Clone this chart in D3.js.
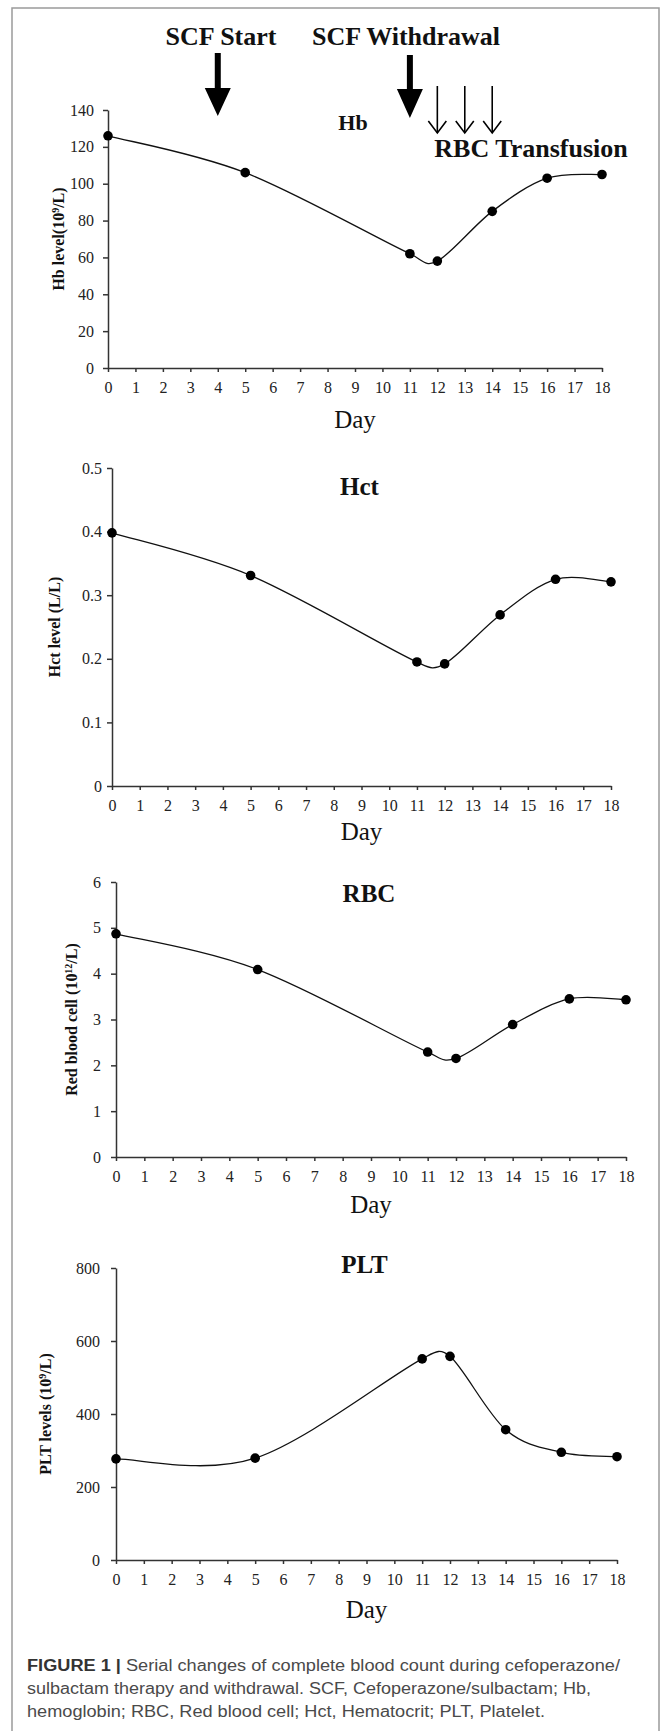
<!DOCTYPE html>
<html>
<head>
<meta charset="utf-8">
<script src="https://cdn.jsdelivr.net/npm/d3@7"></script>
<style>
  body { margin: 0; background: #fff; }
  svg { display: block; }
  .tick text { font-family: "Liberation Serif", serif; font-size: 16px; fill: #222; }
  .axis path, .axis line { stroke: #333; stroke-width: 1.5; }
</style>
</head>
<body>
<svg id="fig" width="663" height="1731"></svg>
<script>
// values
const days = [0, 5, 11, 12, 14, 16, 18];
const hbValues = [126, 106, 62, 58, 85, 103, 105];
const hctValues = [0.398, 0.331, 0.195, 0.192, 0.269, 0.325, 0.321];
const rbcValues = [4.87, 4.09, 2.29, 2.15, 2.89, 3.45, 3.43];
const pltValues = [277, 279, 551, 558, 357, 295, 283];

const dayTicks = [0, 1, 2, 3, 4, 5, 6, 7, 8, 9, 10, 11, 12, 13, 14, 15, 16, 17, 18];
const hbTicks = [0, 20, 40, 60, 80, 100, 120, 140];
const hctTicks = [0, 0.1, 0.2, 0.3, 0.4, 0.5];
const rbcTicks = [0, 1, 2, 3, 4, 5, 6];
const pltTicks = [0, 200, 400, 600, 800];

const scfStartDay = 4;
const scfStopDay = 11;
const transfusionDays = [12, 13, 14];

const caption = [
  "Serial changes of complete blood count during cefoperazone/",
  "sulbactam therapy and withdrawal. SCF, Cefoperazone/sulbactam; Hb,",
  "hemoglobin; RBC, Red blood cell; Hct, Hematocrit; PLT, Platelet."
];

// layout of the four panels
const panels = [
  { title: "Hb", values: hbValues, ticks: hbTicks, yLabel: ["Hb level(10", "9", "/L)"],
    x0: 108, x1: 602, yTop: 110, yBot: 368, pad: 9, titleY: 130, titleSize: 22,
    labelX: 58, dayY: 428 },
  { title: "Hct", values: hctValues, ticks: hctTicks, yLabel: ["Hct level (L/L)"],
    x0: 112, x1: 611, yTop: 468, yBot: 786, pad: 5, titleY: 495, titleSize: 25,
    labelX: 54, dayY: 840 },
  { title: "RBC", values: rbcValues, ticks: rbcTicks, yLabel: ["Red blood cell (10", "12", "/L)"],
    x0: 116, x1: 626, yTop: 882, yBot: 1157, pad: 10, titleY: 902, titleSize: 25,
    labelX: 71, dayY: 1213 },
  { title: "PLT", values: pltValues, ticks: pltTicks, yLabel: ["PLT levels (10", "9", "/L)"],
    x0: 116, x1: 617, yTop: 1268, yBot: 1560, pad: 11, titleY: 1273, titleSize: 25,
    labelX: 45, dayY: 1618 }
];

const svg = d3.select("#fig");
const serif = "Liberation Serif, Times New Roman, serif";

svg.append("rect")
  .attr("x", 12).attr("y", 8).attr("width", 647).attr("height", 1760)
  .attr("fill", "none").attr("stroke", "#9a9a9a").attr("stroke-width", 1.5);

// spreadsheet-style smoothing: bezier arms of 1/6 the neighbour chord,
// capped at half the segment so short segments don't loop
function arm(a, b, seg) {
  const dx = b[0] - a[0], dy = b[1] - a[1], d = Math.hypot(dx, dy);
  let f = 1 / 6;
  if (d * f > seg / 2) f = seg / (2 * d);
  return [dx * f, dy * f];
}
function smoothPath(pts) {
  const p = d3.path();
  p.moveTo(pts[0][0], pts[0][1]);
  for (let i = 0; i < pts.length - 1; i++) {
    const p0 = pts[Math.max(i - 1, 0)], p1 = pts[i], p2 = pts[i + 1];
    const p3 = pts[Math.min(i + 2, pts.length - 1)];
    const seg = Math.hypot(p2[0] - p1[0], p2[1] - p1[1]);
    const a = arm(p0, p2, seg), b = arm(p1, p3, seg);
    p.bezierCurveTo(p1[0] + a[0], p1[1] + a[1], p2[0] - b[0], p2[1] - b[1], p2[0], p2[1]);
  }
  return p.toString();
}

let hbX;

panels.forEach((p, i) => {
  const x = d3.scaleLinear().domain([0, 18]).range([p.x0, p.x1]);
  const y = d3.scaleLinear().domain([0, d3.max(p.ticks)]).range([p.yBot, p.yTop]);
  if (i === 0) hbX = x;

  svg.append("g").attr("class", "axis")
    .attr("transform", `translate(${p.x0},0)`)
    .call(d3.axisLeft(y).tickValues(p.ticks).tickSize(5).tickSizeOuter(0).tickPadding(p.pad)
      .tickFormat(d3.format("")));

  svg.append("g").attr("class", "axis")
    .attr("transform", `translate(0,${p.yBot})`)
    .call(d3.axisBottom(x).tickValues(dayTicks).tickSize(4).tickSizeOuter(0).tickPadding(10));

  const pts = days.map((d, k) => [x(d), y(p.values[k])]);
  svg.append("path")
    .attr("d", smoothPath(pts))
    .attr("fill", "none").attr("stroke", "#111").attr("stroke-width", 1.3);

  svg.append("g").selectAll("circle").data(pts).join("circle")
    .attr("cx", d => d[0]).attr("cy", d => d[1]).attr("r", 4.8).attr("fill", "#000");

  svg.append("text")
    .attr("x", (p.x0 + p.x1) / 2 - 2).attr("y", p.titleY)
    .attr("text-anchor", "middle")
    .style("font-family", serif).style("font-weight", "bold").style("font-size", p.titleSize + "px")
    .attr("fill", "#111")
    .text(p.title);

  const lab = svg.append("text")
    .attr("transform", `translate(${p.labelX},${(p.yTop + p.yBot) / 2}) rotate(-90)`)
    .attr("text-anchor", "middle").attr("dy", "0.35em")
    .style("font-family", serif).style("font-weight", "bold").style("font-size", "16px")
    .attr("fill", "#111");
  p.yLabel.forEach((s, k) => {
    const t = lab.append("tspan").text(s);
    if (k === 1) t.attr("baseline-shift", "super").style("font-size", "10px");
  });

  svg.append("text")
    .attr("x", (p.x0 + p.x1) / 2).attr("y", p.dayY)
    .attr("text-anchor", "middle")
    .style("font-family", serif).style("font-size", "25px")
    .attr("fill", "#111")
    .text("Day");
});

// annotations on the Hb panel
function thickArrow(xc, top, head, tip) {
  return `M${xc - 3},${top}L${xc + 3},${top}L${xc + 3},${head}L${xc + 13},${head}` +
    `L${xc},${tip}L${xc - 13},${head}L${xc - 3},${head}Z`;
}
svg.append("path").attr("d", thickArrow(hbX(scfStartDay), 53, 88, 116)).attr("fill", "#000");
svg.append("path").attr("d", thickArrow(hbX(scfStopDay), 55, 89, 118)).attr("fill", "#000");

transfusionDays.forEach(d => {
  const xc = hbX(d);
  svg.append("line").attr("x1", xc).attr("x2", xc).attr("y1", 86).attr("y2", 133)
    .attr("stroke", "#000").attr("stroke-width", 1.6);
  svg.append("path").attr("d", `M${xc - 9},121L${xc},133L${xc + 9},121`)
    .attr("fill", "none").attr("stroke", "#000").attr("stroke-width", 1.6);
});

const notes = [
  { text: "SCF Start", x: 221, y: 45 },
  { text: "SCF Withdrawal", x: 406, y: 45 },
  { text: "RBC Transfusion", x: 531, y: 157 }
];
svg.selectAll(".note").data(notes).join("text")
  .attr("class", "note")
  .attr("x", d => d.x).attr("y", d => d.y).attr("text-anchor", "middle")
  .style("font-family", serif).style("font-weight", "bold").style("font-size", "26px")
  .attr("fill", "#111")
  .text(d => d.text);

// caption
const cap = svg.append("g")
  .style("font-family", "Liberation Sans, Arial, sans-serif").style("font-size", "16px");
const capWidths = [593, 564, 518];
caption.forEach((line, k) => {
  const t = cap.append("text").attr("x", 27).attr("y", 1671 + k * 23)
    .attr("textLength", capWidths[k]).attr("lengthAdjust", "spacingAndGlyphs")
    .attr("fill", "#4a4a4a");
  if (k === 0) {
    t.append("tspan").style("font-weight", "bold").attr("fill", "#333").text("FIGURE 1 | ");
  }
  t.append("tspan").text(line);
});
</script>
</body>
</html>
